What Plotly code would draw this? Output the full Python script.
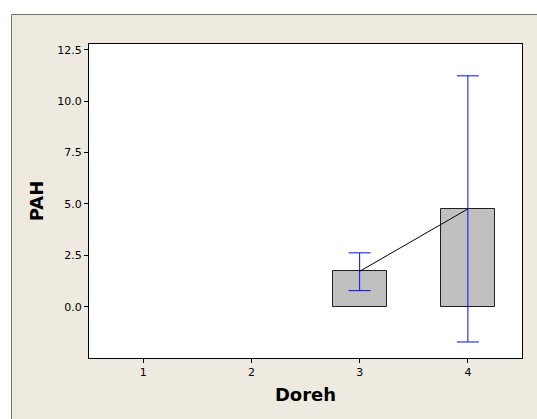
import plotly.graph_objects as go

categories = [1, 2, 3, 4]
bar_x = [3, 4]
means = [1.72, 4.76]
err_upper = [0.90, 6.48]
err_lower = [0.94, 6.48]
y_ticks = [0.0, 2.5, 5.0, 7.5, 10.0, 12.5]
y_tick_labels = ["0.0", "2.5", "5.0", "7.5", "10.0", "12.5"]

fig = go.Figure()
fig.add_trace(go.Bar(
    x=bar_x, y=means, width=0.5,
    marker=dict(color="#C0C0C0", line=dict(color="#202020", width=1)),
    error_y=dict(type="data", symmetric=False, array=err_upper, arrayminus=err_lower,
                 color="#0A0AF5", thickness=1, width=11),
    showlegend=False, hoverinfo="skip",
))
fig.add_trace(go.Scatter(
    x=bar_x, y=means, mode="lines",
    line=dict(color="#000000", width=1), showlegend=False, hoverinfo="skip",
))

W, H = 537, 419
L, R, T, B = 89, 15, 44, 61
pw, ph = W - L - R, H - T - B
px = lambda p: (p - L) / pw
py = lambda p: (H - B - p) / ph

fig.add_shape(type="rect", xref="paper", yref="paper",
              x0=px(11.5), x1=px(545), y0=py(14.5), y1=py(430),
              fillcolor="#EEEAE0", line=dict(color="#707070", width=1), layer="below")
fig.add_shape(type="rect", xref="paper", yref="paper",
              x0=0, x1=1, y0=0, y1=1,
              fillcolor="#FFFFFF", line=dict(width=0), layer="below")

tick_font = dict(family="DejaVu Sans", size=11, color="#000000")
fig.update_layout(
    width=W, height=H,
    margin=dict(l=L, r=R, t=T, b=B, pad=0),
    paper_bgcolor="#FFFFFF", plot_bgcolor="#FFFFFF",
    xaxis=dict(range=[0.5, 4.5], tickvals=categories, ticktext=[str(c) for c in categories],
               ticks="outside", ticklen=4, tickcolor="#000000", showgrid=False, zeroline=False,
               showline=True, linecolor="#000000", linewidth=1, mirror=True,
               tickfont=tick_font,
               title=dict(text="<b>Doreh</b>", font=dict(family="DejaVu Sans", size=18, color="#000000"),
                          standoff=10)),
    yaxis=dict(range=[-2.5, 12.79], tickvals=y_ticks, ticktext=y_tick_labels,
               ticks="outside", ticklen=4, tickcolor="#000000", showgrid=False, zeroline=False,
               showline=True, linecolor="#000000", linewidth=1, mirror=True,
               tickfont=tick_font,
               title=dict(text="<b>PAH</b>", font=dict(family="DejaVu Sans", size=18, color="#000000"),
                          standoff=8)),
    bargap=0,
)
fig.write_html("out.html")
